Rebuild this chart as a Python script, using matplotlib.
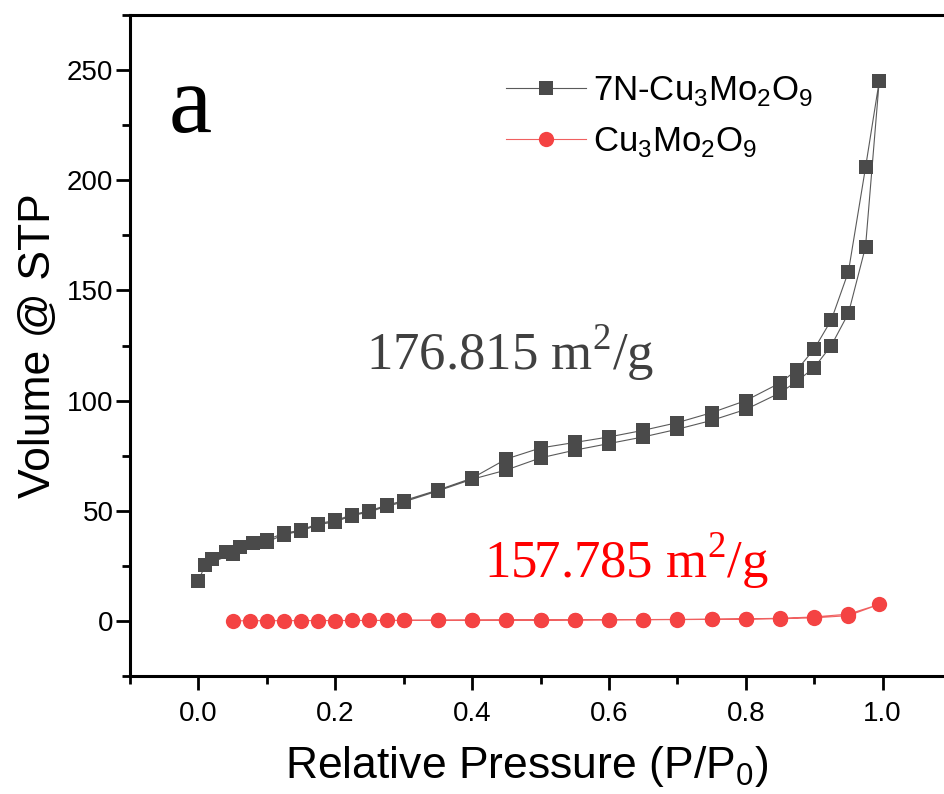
import matplotlib
matplotlib.use("Agg")
import matplotlib.pyplot as plt
from matplotlib.ticker import MultipleLocator

plt.rcParams['font.family'] = ['Liberation Sans', 'DejaVu Sans']
plt.rcParams['mathtext.fontset'] = 'custom'
plt.rcParams['mathtext.rm'] = 'Liberation Sans'

# 7N-Cu3Mo2O9: adsorption branch
n7_ads_p = [0.0, 0.01, 0.05, 0.1, 0.125, 0.15, 0.175, 0.2, 0.225, 0.25, 0.275, 0.3,
            0.35, 0.4, 0.45, 0.5, 0.55, 0.6, 0.65, 0.7, 0.75, 0.8, 0.85, 0.875,
            0.9, 0.925, 0.95, 0.975, 0.995]
n7_ads_v = [18.3, 25.4, 30.4, 35.8, 39.2, 40.8, 43.7, 45.0, 47.8, 49.5, 52.0, 54.0,
            59.0, 64.3, 68.5, 74.0, 77.5, 80.5, 83.5, 87.0, 91.0, 96.0, 103.5, 108.8,
            115.0, 125.0, 139.6, 169.8, 245.0]
# 7N-Cu3Mo2O9: desorption branch
n7_des_p = [0.975, 0.95, 0.925, 0.9, 0.875, 0.85, 0.8, 0.75, 0.7, 0.65, 0.6, 0.55,
            0.5, 0.45, 0.4, 0.35, 0.3, 0.275, 0.25, 0.225, 0.2, 0.175, 0.15, 0.125,
            0.1, 0.08, 0.06, 0.04, 0.02]
n7_des_v = [205.8, 158.5, 136.6, 123.4, 114.0, 108.0, 100.0, 94.5, 90.0, 86.5, 83.5, 81.0,
            78.5, 73.5, 64.8, 59.4, 54.6, 52.5, 50.0, 48.2, 45.6, 44.2, 41.2, 39.8,
            36.8, 35.5, 33.7, 31.5, 28.0]

# Cu3Mo2O9: adsorption branch
cu_ads_p = [0.05, 0.075, 0.1, 0.125, 0.15, 0.175, 0.2, 0.225, 0.25, 0.275, 0.3,
            0.35, 0.4, 0.45, 0.5, 0.55, 0.6, 0.65, 0.7, 0.75, 0.8, 0.85, 0.9, 0.95, 0.995]
cu_ads_v = [0.05, 0.08, 0.1, 0.12, 0.14, 0.16, 0.18, 0.2, 0.22, 0.24, 0.26,
            0.3, 0.33, 0.37, 0.4, 0.45, 0.5, 0.55, 0.6, 0.7, 0.8, 1.0, 1.4, 2.4, 7.5]
# Cu3Mo2O9: desorption branch
cu_des_p = [0.95, 0.9, 0.85, 0.8, 0.75, 0.7, 0.65, 0.6, 0.55, 0.5, 0.45, 0.4, 0.35, 0.3]
cu_des_v = [3.1, 1.8, 1.2, 0.95, 0.8, 0.7, 0.62, 0.56, 0.5, 0.45, 0.4, 0.37, 0.33, 0.3]

labels = ['7N-Cu$_\\mathdefault{3}$Mo$_\\mathdefault{2}$O$_\\mathdefault{9}$',
          'Cu$_\\mathdefault{3}$Mo$_\\mathdefault{2}$O$_\\mathdefault{9}$']
surface_areas = ['176.815 m$^\\mathdefault{2}$/g', '157.785 m$^\\mathdefault{2}$/g']

fig = plt.figure(figsize=(9.45, 7.94), dpi=100)
ax = fig.add_axes([0.1376, 0.1486, 0.8688, 0.8325])

ax.plot(n7_ads_p + n7_des_p, n7_ads_v + n7_des_v, color='#5a5a5a', lw=0.8,
        marker='s', ms=10, mfc='#4a4a4a', mec='#4a4a4a', mew=0, label=labels[0])
ax.plot(cu_ads_p + cu_des_p, cu_ads_v + cu_des_v, color='#f06060', lw=0.8,
        marker='o', ms=11, mfc='#f44343', mec='#f44343', mew=0, label=labels[1])

ax.set_xlim(-0.1, 1.1)
ax.set_ylim(-25, 275)
ax.xaxis.set_major_locator(MultipleLocator(0.2))
ax.xaxis.set_minor_locator(MultipleLocator(0.1))
ax.yaxis.set_major_locator(MultipleLocator(50))
ax.yaxis.set_minor_locator(MultipleLocator(25))
ax.set_xticks([0.0, 0.2, 0.4, 0.6, 0.8, 1.0])
ax.set_xticklabels(['0.0', '0.2', '0.4', '0.6', '0.8', '1.0'])

for s in ax.spines.values():
    s.set_linewidth(2.2)
ax.tick_params(which='major', direction='out', length=10, width=2, labelsize=20)
ax.tick_params(which='minor', direction='out', length=6, width=2)
ax.tick_params(axis='x', pad=8)
ax.tick_params(axis='y', pad=2)

ax.set_xlabel('Relative Pressure (P/P$_\\mathdefault{0}$)', fontsize=32)
ax.set_ylabel('Volume @ STP', fontsize=32)
ax.xaxis.set_label_coords(0.483, -0.103)
ax.yaxis.set_label_coords(-0.086, 0.5)

ax.text(-0.012, 222, 'a', family='Liberation Serif', fontsize=70,
        ha='center', va='baseline')
ax.text(0.456, 114.3, surface_areas[0], family='Liberation Serif', fontsize=38,
        color='#404040', ha='center', va='baseline')
ax.text(0.626, 19.5, surface_areas[1], family='Liberation Serif', fontsize=38,
        color='#ff0000', ha='center', va='baseline')

ax.legend(loc='upper left', bbox_to_anchor=(0.42, 0.958), frameon=False,
          fontsize=25, handlelength=2.3, handletextpad=0.2, labelspacing=0.48)

fig.savefig('out.png', dpi=100)
